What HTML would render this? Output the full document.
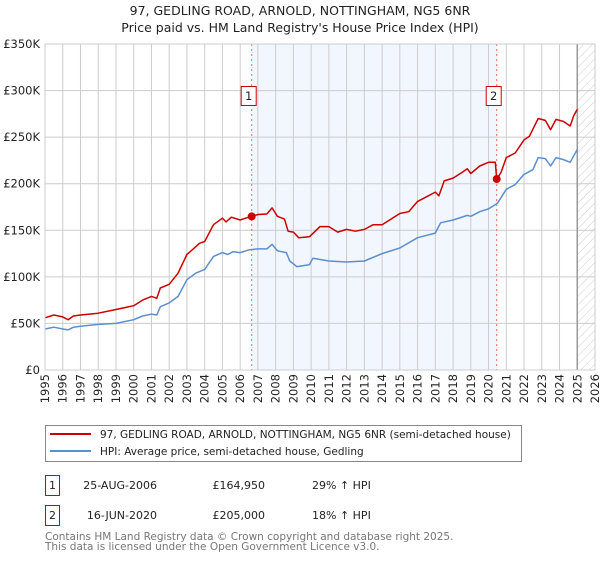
<!DOCTYPE html>
<html><head><meta charset="utf-8">
<style>
body{margin:0;background:#fff;font-family:"Liberation Sans","DejaVu Sans",sans-serif;}
svg text{font-family:"DejaVu Sans","Liberation Sans",sans-serif;}
</style></head>
<body>
<svg id="chart" width="600" height="560" xmlns="http://www.w3.org/2000/svg">
<defs>
<pattern id="hatch" width="6" height="6" patternUnits="userSpaceOnUse" patternTransform="rotate(45)">
<line x1="0" y1="0" x2="0" y2="6" stroke="#ccc" stroke-width="1"/>
</pattern>
</defs>
<text x="300" y="15" font-size="12.5" text-anchor="middle" fill="#222">97, GEDLING ROAD, ARNOLD, NOTTINGHAM, NG5 6NR</text>
<text x="300" y="32" font-size="12.5" text-anchor="middle" fill="#222">Price paid vs. HM Land Registry's House Price Index (HPI)</text>
<g id="plot"></g>
<g>
<rect x="45.5" y="425.5" width="476" height="36" fill="#fff" stroke="#888"/>
<line x1="50" y1="434" x2="91" y2="434" stroke="#cc0000" stroke-width="2"/>
<text x="100" y="438" font-size="10.5" fill="#222">97, GEDLING ROAD, ARNOLD, NOTTINGHAM, NG5 6NR (semi-detached house)</text>
<line x1="50" y1="451" x2="91" y2="451" stroke="#5b8fd0" stroke-width="2"/>
<text x="100" y="455" font-size="10.5" fill="#222">HPI: Average price, semi-detached house, Gedling</text>
</g>
<g font-size="11" fill="#222">
<rect x="45.5" y="475.5" width="14" height="20" fill="#fff" stroke="#cc0000"/>
<text x="52.5" y="489" text-anchor="middle">1</text>
<text x="157" y="489" text-anchor="end">25-AUG-2006</text>
<text x="265" y="489" text-anchor="end">£164,950</text>
<text x="312" y="489">29% ↑ HPI</text>
<rect x="45.5" y="505.5" width="14" height="20" fill="#fff" stroke="#cc0000"/>
<text x="52.5" y="519" text-anchor="middle">2</text>
<text x="157" y="519" text-anchor="end">16-JUN-2020</text>
<text x="265" y="519" text-anchor="end">£205,000</text>
<text x="312" y="519">18% ↑ HPI</text>
</g>
<text x="45" y="540" font-size="10.5" fill="#777">Contains HM Land Registry data © Crown copyright and database right 2025.</text>
<text x="45" y="550" font-size="10.5" fill="#777">This data is licensed under the Open Government Licence v3.0.</text>
</svg>
<script>
const yTicks=[0,50,100,150,200,250,300,350];
const yTickLabels=["£0","£50K","£100K","£150K","£200K","£250K","£300K","£350K"];
const years=[1995,1996,1997,1998,1999,2000,2001,2002,2003,2004,2005,2006,2007,2008,2009,2010,2011,2012,2013,2014,2015,2016,2017,2018,2019,2020,2021,2022,2023,2024,2025,2026];
const hpiT=[1995,1995.5,1996,1996.3,1996.6,1997,1998,1999,2000,2000.5,2001,2001.3,2001.5,2002,2002.5,2003,2003.5,2004,2004.5,2005,2005.3,2005.6,2006,2006.5,2007,2007.5,2007.8,2008.1,2008.6,2008.8,2009.2,2009.9,2010.1,2011,2012,2013,2014,2015,2016,2017,2017.3,2018,2018.8,2019,2019.5,2020,2020.5,2021,2021.5,2022,2022.5,2022.8,2023.2,2023.5,2023.8,2024.2,2024.6,2025];
const hpiV=[44,46,44,43,46,47,49,50,54,58,60,59,68,72,79,97,104,108,122,126,124,127,126,129,130,130,135,128,126,117,111,113,120,117,116,117,125,131,142,147,158,161,166,165,170,173,179,194,199,210,215,228,227,219,228,226,223,237];
const ppT=[1995,1995.5,1996,1996.3,1996.6,1997,1998,1999,2000,2000.5,2001,2001.3,2001.5,2002,2002.5,2003,2003.3,2003.7,2004,2004.5,2005,2005.2,2005.5,2006,2006.3,2006.65,2007,2007.5,2007.8,2008.1,2008.5,2008.7,2009,2009.3,2009.9,2010.5,2011,2011.5,2012,2012.5,2013,2013.5,2014,2014.5,2015,2015.5,2016,2016.5,2017,2017.2,2017.5,2018,2018.5,2018.8,2019,2019.5,2020,2020.38,2020.46,2020.7,2021,2021.5,2022,2022.3,2022.8,2023.2,2023.5,2023.8,2024.2,2024.6,2024.8,2025];
const ppV=[56,59,57,54,58,59,61,65,69,75,79,77,88,92,104,124,129,136,138,156,163,159,164,161,163,165,167,167.5,174,165,162,149,148,142,143,154,154,148,151,149,151,156,156,162,168,170,181,186,191,187,203,206,212,216,211,219,223,223,205,212,228,233,247,251,270,268,258,269,267,262,273,280];
const saleT=[2006.65,2020.46];
const saleV=[164.95,205];
const saleLabels=["1","2"];
const L=45,R=595,T=44,B=370,Y0=1995,Y1=2026,VMAX=350;
const X=t=>L+(t-Y0)/(Y1-Y0)*(R-L);
const Y=v=>B-v/VMAX*(B-T);
const NS="http://www.w3.org/2000/svg";
const g=document.getElementById('plot');
function mk(tag,attrs){const e=document.createElementNS(NS,tag);for(const k in attrs)e.setAttribute(k,attrs[k]);g.appendChild(e);return e;}
let e;
e=mk('rect',{x:X(saleT[0]),y:T,width:X(saleT[1])-X(saleT[0]),height:B-T,fill:'#f2f6fe'});


e=mk('rect',{x:X(2025),y:T,width:R-X(2025),height:B-T,fill:'url(#hatch)'});


years.forEach(yr=>{
 e=mk('line',{x1:X(yr),x2:X(yr),y1:T,y2:B,stroke:'#cccccc','stroke-width':1});
 
 
 e=mk('text',{x:0,y:0,'font-size':11.5,fill:'#222','text-anchor':'end',transform:`translate(${X(yr)+4},${B+4}) rotate(-90)`});
 e.textContent=yr;
 
 
});
yTicks.forEach((v,i)=>{
 e=mk('line',{x1:L,x2:R,y1:Y(v),y2:Y(v),stroke:'#cccccc','stroke-width':1});
 
 
 e=mk('text',{x:L-5,y:Y(v)+4,'font-size':11.5,fill:'#222','text-anchor':'end'});
 e.textContent=yTickLabels[i];
 
 
});
e=mk('line',{x1:X(2025),x2:X(2025),y1:T,y2:B,stroke:'#999','stroke-width':1.5});


saleT.forEach((t,i)=>{
 e=mk('line',{x1:X(t),x2:X(t),y1:T,y2:B,stroke:'#ee6666','stroke-width':1,'stroke-dasharray':'2,3'});
 
 
});
function path(ts,vs){return ts.map((t,i)=>(i?'L':'M')+X(t).toFixed(1)+','+Y(vs[i]).toFixed(1)).join('');}
e=mk('path',{d:path(hpiT,hpiV),fill:'none',stroke:'#5b8fd0','stroke-width':1.5,'stroke-linejoin':'round'});


e=mk('path',{d:path(ppT,ppV),fill:'none',stroke:'#cc0000','stroke-width':1.5,'stroke-linejoin':'round'});


saleT.forEach((t,i)=>{
 e=mk('circle',{cx:X(t),cy:Y(saleV[i]),r:4,fill:'#cc0000'});
 
 
 e=mk('rect',{x:X(t)-10.5,y:86.5,width:15,height:19,fill:'#fff',stroke:'#cc0000'});
 
 
 e=mk('text',{x:X(t)-3,y:100,'font-size':11.5,fill:'#222','text-anchor':'middle'});
 e.textContent=saleLabels[i];
 
 
});
e=mk('rect',{x:L,y:T,width:R-L,height:B-T,fill:'none',stroke:'#cccccc'});


</script>
</body></html>
